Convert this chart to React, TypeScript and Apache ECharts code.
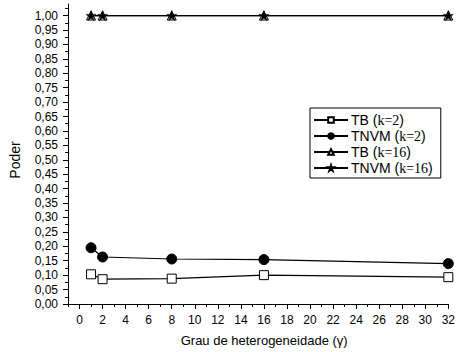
import React, { useEffect, useRef } from "react";
import * as echarts from "echarts";

const xValues = [1, 2, 8, 16, 32];
const tbK2 = [0.103, 0.086, 0.088, 0.1, 0.093];
const tnvmK2 = [0.195, 0.163, 0.156, 0.154, 0.14];
const tbK16 = [1.0, 1.0, 1.0, 1.0, 1.0];
const tnvmK16 = [1.0, 1.0, 1.0, 1.0, 1.0];

const seriesNames = ["TB (k=2)", "TNVM (k=2)", "TB (k=16)", "TNVM (k=16)"];
const xMajorTicks = [0, 2, 4, 6, 8, 10, 12, 14, 16, 18, 20, 22, 24, 26, 28, 30, 32];
const xMinorTicks = [-1, 1, 3, 5, 7, 9, 11, 13, 15, 17, 19, 21, 23, 25, 27, 29, 31];
const yMajorTicks = Array.from({ length: 21 }, (_, i) => Math.round(i * 5) / 100);
const yMinorTicks = Array.from({ length: 21 }, (_, i) => (i * 5 + 2.5) / 100);

const STAR = "path://M50,0 L61,35 L98,35 L68,57 L79,91 L50,70 L21,91 L32,57 L2,35 L39,35 Z";
const FONT = "Liberation Sans";

export default function App() {
  const ref = useRef<HTMLDivElement>(null);
  useEffect(() => {
    const chart = echarts.init(ref.current!, null, { renderer: "svg" });
    const mk = (vals: number[]) => xValues.map((x, i) => [x, vals[i]]);
    const lineStyle = { color: "#000", width: 1.2 };
    const baseX = {
      type: "value",
      min: -1,
      max: 32,
      splitLine: { show: false },
    };
    const baseY = {
      type: "value",
      min: 0,
      max: 1.04,
      splitLine: { show: false },
    };
    chart.setOption({
      animation: false,
      backgroundColor: "#fff",
      grid: { left: 68, right: 7, top: 4, bottom: 46 },
      legend: {
        orient: "vertical",
        left: 310,
        top: 108,
        padding: [5, 8, 3, 3],
        itemGap: 2,
        itemWidth: 34,
        itemHeight: 7,
        borderColor: "#000",
        borderWidth: 1,
        borderRadius: 0,
        data: seriesNames,
        formatter: (name: string) => {
          const m = name.match(/^(.*)\((.*)\)$/);
          if (!m) return name;
          return `{a|${m[1]}(}{b|${m[2]}}{a|)}`;
        },
        textStyle: {
          color: "#000",
          padding: [0, 0, 0, -2],
          rich: {
            a: { fontFamily: FONT, fontSize: 14, color: "#000", height: 16 },
            b: { fontFamily: "Liberation Serif", fontSize: 14, color: "#000", height: 16 },
          },
        },
      },
      xAxis: [
        {
          ...baseX,
          name: "Grau de heterogeneidade (\u03b3)",
          nameLocation: "middle",
          nameGap: 30,
          nameTextStyle: { fontFamily: FONT, fontSize: 13, color: "#000", padding: [0, 0, 0, 12] },
          axisLine: { show: true, onZero: false, lineStyle: { color: "#000", width: 1 } },
          axisTick: { show: true, length: 5, customValues: xMajorTicks, lineStyle: { color: "#000" } },
          axisLabel: {
            customValues: xMajorTicks,
            fontFamily: FONT,
            fontSize: 12,
            color: "#000",
            margin: 10,
          },
        },
        {
          ...baseX,
          position: "bottom",
          axisLine: { show: false, onZero: false },
          axisTick: { show: true, length: 3, customValues: xMinorTicks, lineStyle: { color: "#000" } },
          axisLabel: { show: false },
        },
      ],
      yAxis: [
        {
          ...baseY,
          name: "Poder",
          nameLocation: "middle",
          nameGap: 46,
          nameTextStyle: { fontFamily: FONT, fontSize: 14, color: "#000", padding: [0, 0, 0, -12] },
          axisLine: { show: true, onZero: false, lineStyle: { color: "#000", width: 1 } },
          axisTick: { show: true, length: 5, customValues: yMajorTicks, lineStyle: { color: "#000" } },
          axisLabel: {
            customValues: yMajorTicks,
            fontFamily: FONT,
            fontSize: 12,
            color: "#000",
            margin: 10,
            formatter: (v: number) => v.toFixed(2).replace(".", ","),
          },
        },
        {
          ...baseY,
          position: "left",
          axisLine: { show: false, onZero: false },
          axisTick: { show: true, length: 3, customValues: yMinorTicks, lineStyle: { color: "#000" } },
          axisLabel: { show: false },
        },
      ],
      series: [
        {
          name: seriesNames[0],
          type: "line",
          data: mk(tbK2),
          symbol: "rect",
          symbolSize: 9,
          lineStyle,
          itemStyle: { color: "#fff", borderColor: "#000", borderWidth: 1 },
          z: 3,
        },
        {
          name: seriesNames[1],
          type: "line",
          data: mk(tnvmK2),
          symbol: "circle",
          symbolSize: 10,
          lineStyle,
          itemStyle: { color: "#000", borderColor: "#000", borderWidth: 1 },
          z: 3,
        },
        {
          name: seriesNames[2],
          type: "line",
          data: mk(tbK16),
          symbol: "triangle",
          symbolSize: 9,
          lineStyle,
          itemStyle: { color: "#fff", borderColor: "#000", borderWidth: 1 },
          z: 2,
        },
        {
          name: seriesNames[3],
          type: "line",
          data: mk(tnvmK16),
          symbol: STAR,
          symbolSize: 10,
          lineStyle,
          itemStyle: { color: "#000", borderColor: "#000", borderWidth: 0.5 },
          z: 4,
        },
      ],
    });
    return () => chart.dispose();
  }, []);
  return <div ref={ref} style={{ width: 458, height: 352, position: "absolute", left: 0, top: 0 }} />;
}
